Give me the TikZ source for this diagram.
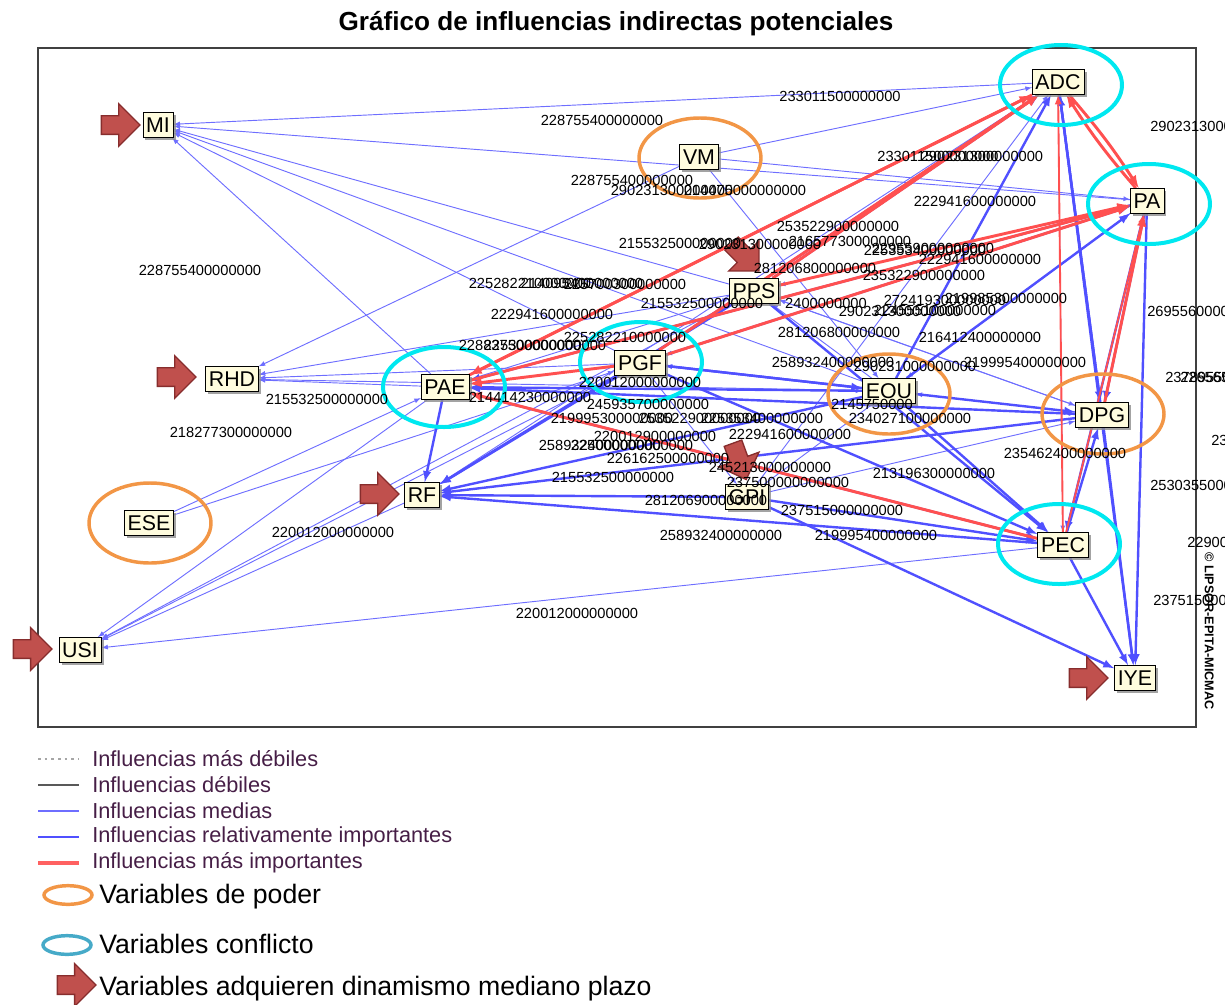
\documentclass[tikz,border=0pt]{standalone}
\usepackage{fontspec}
\setmainfont{Liberation Sans}
\usetikzlibrary{shapes,arrows,positioning,calc,fit,backgrounds,shadows}
\definecolor{medblue}{RGB}{110,110,255}
\definecolor{relblue}{RGB}{80,80,255}
\definecolor{topred}{RGB}{255,80,80}
\definecolor{ringcyan}{RGB}{0,232,240}
\definecolor{ringorange}{RGB}{242,150,70}
\definecolor{legcyan}{RGB}{70,170,200}
\definecolor{dynfill}{RGB}{192,80,77}
\definecolor{dynline}{RGB}{135,45,45}
\definecolor{boxfill}{RGB}{255,252,222}
\definecolor{legtext}{RGB}{70,30,70}

\begin{document}
\begin{tikzpicture}[x=0.75pt, y=-0.75pt,
    var/.style={draw, fill=boxfill, inner xsep=2.5pt, inner ysep=1pt, minimum height=19pt,
      font=\fontsize{16}{16}\selectfont,
      drop shadow={shadow xshift=2pt, shadow yshift=-2pt, fill=black!45, opacity=0.8}},
    med/.style={-latex, medblue, line width=0.7pt},
    rel/.style={-latex, relblue, line width=1.8pt},
    top/.style={-latex, topred, line width=2.2pt},
    val/.style={font=\fontsize{11}{11}\selectfont, inner sep=0pt},
    dyn/.style={single arrow, draw=dynline, fill=dynfill, line width=1pt, minimum height=29pt,
      inner sep=6.5pt, single arrow head extend=9pt},
    power/.style={ringorange, line width=2.6pt},
    conflict/.style={ringcyan, line width=3pt},
    legline/.style={line width=#1, line cap=butt}]

  \useasboundingbox (0,0) rectangle (1225,1004);
  \node[font=\fontsize{19.6}{19.6}\selectfont\bfseries] (title) at (616,24) {Gráfico de influencias indirectas potenciales};
  \draw[line width=1.3pt, black!75] (38,48) rectangle (1196,727);

  % variables
  \node[var] (MI)  at (158,125) {MI};
  \node[var] (VM)  at (699,157) {VM};
  \node[var] (ADC) at (1058,82) {ADC};
  \node[var] (PA)  at (1147,201) {PA};
  \node[var] (PPS) at (754,291) {PPS};
  \node[var] (RHD) at (232,379) {RHD};
  \node[var] (PAE) at (445,387) {PAE};
  \node[var] (PGF) at (640,363) {PGF};
  \node[var] (EOU) at (889,391) {EOU};
  \node[var] (DPG) at (1102,415) {DPG};
  \node[var] (RF)  at (422,495) {RF};
  \node[var] (ESE) at (149,523) {ESE};
  \node[var] (GPI) at (747,497) {GPI};
  \node[var] (PEC) at (1063,545) {PEC};
  \node[var] (USI) at (80,650) {USI};
  \node[var] (IYE) at (1135,678) {IYE};

  % influences
  \begin{scope}[on background layer]
    \foreach \a/\b in {ADC/MI, PA/MI, PPS/MI, EOU/MI, PGF/MI, PAE/MI, VM/ADC, VM/PA, VM/EOU,
        PPS/RHD, VM/RHD, PAE/RHD, PGF/RHD, EOU/RHD, PAE/USI, PGF/USI, RF/USI, PEC/USI, PPS/USI,
        ESE/PAE, ESE/PGF, PA/PGF, DPG/PGF, PA/EOU, DPG/EOU, EOU/PGF, PGF/GPI, PAE/EOU, PPS/DPG,
        GPI/ADC, PA/PPS, DPG/PPS, EOU/PPS, ADC/PEC, RF/ADC, GPI/PA, PAE/DPG, GPI/DPG, PAE/PPS}
      \draw[med] (\a) -- (\b);
    \foreach \a/\b in {PAE/RF, PGF/RF, PPS/RF, EOU/RF, DPG/RF, PEC/RF, GPI/RF,
        PGF/ADC, PPS/ADC, EOU/ADC, DPG/ADC, ADC/DPG, ADC/IYE, PA/IYE, PA/DPG, DPG/IYE,
        PEC/IYE, GPI/IYE, PEC/DPG, PGF/PEC, EOU/PEC, PAE/PEC, PGF/PA, EOU/PA, DPG/PAE,
        EOU/PAE, PA/PEC, GPI/PEC, PPS/PEC, PGF/DPG, PGF/EOU, PA/PAE}
      \draw[rel] (\a) -- (\b);
    \foreach \a/\b in {PAE/ADC, PPS/ADC, PGF/ADC, PAE/PA, PPS/PA, PGF/PA, PEC/PAE,
        DPG/PA, PGF/PAE, ADC/PAE}
      \draw[top] (\a) -- (\b);
    \draw[top, line width=1.4pt] (PEC) -- (ADC);
    \draw[top, line width=1.4pt] (PEC) -- (PA);
    \draw[top] (ADC) to[bend left=4] (PA);
    \draw[top] (PA) to[bend left=4] (ADC);
  \end{scope}

  % circled groups
  \foreach \x/\y in {700/158, 889/394, 1103/414, 150/523}
    \draw[power] (\x,\y) ellipse [x radius=45.75pt, y radius=30pt];
  \foreach \x/\y in {1061/85, 1149/204, 444/387, 641/362, 1059/544}
    \draw[conflict] (\x,\y) ellipse [x radius=45.75pt, y radius=30pt];

  % medium-term arrows
  \node[dyn] (dMI)  at (116,125) {};
  \node[dyn] (dRHD) at (172,377) {};
  \node[dyn] (dRF)  at (375,494) {};
  \node[dyn] (dUSI) at (28,649) {};
  \node[dyn] (dIYE) at (1084,678) {};
  \node[dyn, rotate=-45] (dPPS) at (742,254) {};
  \node[dyn, rotate=-70] (dGPI) at (738,457) {};

  % values
  \foreach \x/\y/\t [count=\i] in {840/96/233011500000000, 602/120/228755400000000,
      200/270/228755400000000, 632/180/228755400000000, 672/190/290231300000000,
      745/190/214475000000000, 938/156/233011500000000, 982/156/290231300000000,
      975/201/222941600000000, 838/226/253522900000000, 850/241/216577300000000,
      680/243/215532500000000, 760/244/290231300000000, 925/250/225353400000000,
      933/248/229559000000000, 980/259/222941600000000, 924/275/235322900000000,
      815/268/281206800000000, 530/283/225282210000000, 582/283/214095400000000,
      625/284/225700300000000, 552/314/222941600000000, 702/303/215532500000000,
      826/303/2400000000, 900/311/290231300000000, 935/310/224555100000000,
      945/300/272419300000000, 1006/298/219985300000000, 839/332/281206800000000,
      980/337/216412400000000, 833/362/258932400000000, 915/366/290231000000000,
      1025/362/219995400000000, 520/345/228837500000000, 545/345/225300000000000,
      625/337/225282210000000, 327/399/215532500000000, 231/432/218277300000000,
      530/397/214414230000000, 640/382/220012000000000, 648/404/245935700000000,
      612/418/219995300000000, 700/418/253522900000000, 762/418/225353400000000,
      910/418/234027100000000, 872/404/2145750000, 790/434/222941600000000,
      655/436/220012900000000, 600/445/258932400000000, 632/445/225000000000000,
      668/458/226162500000000, 770/467/245213000000000, 788/482/237500000000000,
      613/477/215532500000000, 1065/453/235462400000000, 934/473/213196300000000,
      333/532/220012000000000, 706/500/281206900000000, 842/510/237515000000000,
      721/535/258932400000000, 876/535/219995400000000, 577/613/220012000000000}
    \node[val] (v\i) at (\x,\y) {\t};
  \foreach \x/\y/\t [count=\i] in {1150/126/290231300000000, 1147/311/269556000000000,
      1165/377/237895500000000, 1180/377/226565000000000, 1211/440/23000000,
      1150/485/253035500000000, 1187/542/229000000, 1153/600/237515000000000}
    \node[val, anchor=west] (w\i) at (\x,\y) {\t};
  \node[font=\fontsize{9.5}{9.5}\selectfont\bfseries, rotate=-90, anchor=south west] (mark) at (1200,548) {© LIPSOR-EPITA-MICMAC};

  % legend
  \draw[legline=0.8pt, black!35, dash pattern=on 2pt off 3pt] (38,759) -- (79,759);
  \draw[legline=1pt, black!65] (38,785) -- (79,785);
  \draw[legline=1pt, medblue] (38,811) -- (79,811);
  \draw[legline=2.2pt, relblue] (38,837) -- (79,837);
  \draw[legline=2.6pt, topred!90] (38,863) -- (79,863);
  \foreach \y/\t [count=\i] in {759/Influencias más débiles, 785/Influencias débiles,
      811/Influencias medias, 837/Influencias relativamente importantes,
      863/Influencias más importantes}
    \node[anchor=west, inner sep=0pt, text=legtext, font=\fontsize{16.3}{16.3}\selectfont] (leg\i) at (92,\y) {\t};
  \draw[ringorange, line width=2.6pt] (68,895) ellipse [x radius=18pt, y radius=7pt];
  \draw[legcyan, line width=2.6pt] (67,945) ellipse [x radius=18pt, y radius=7pt];
  \node[dyn] (dleg) at (72,985) {};
  \node[anchor=west, inner sep=0pt, font=\fontsize{20}{20}\selectfont] (kpow) at (99,897) {Variables de poder};
  \node[anchor=west, inner sep=0pt, font=\fontsize{20}{20}\selectfont] (kcon) at (99,944) {Variables conflicto};
  \node[anchor=west, inner sep=0pt, font=\fontsize{20}{20}\selectfont] (kdyn) at (99,989) {Variables adquieren dinamismo mediano plazo};
\end{tikzpicture}
\end{document}
